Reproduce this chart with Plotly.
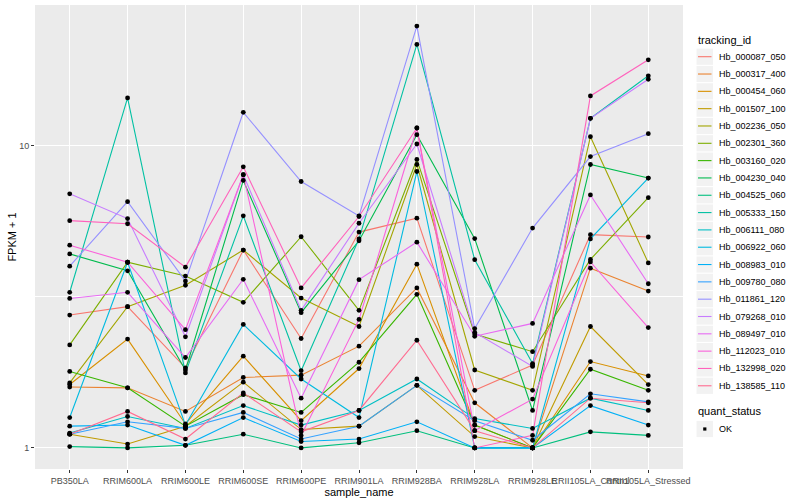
import plotly.graph_objects as go

samples = ["PB350LA", "RRIM600LA", "RRIM600LE", "RRIM600SE", "RRIM600PE", "RRIM901LA",
           "RRIM928BA", "RRIM928LA", "RRIM928LE", "RRII105LA_Control", "RRII105LA_Stressed"]

tracking_ids = ["Hb_000087_050", "Hb_000317_400", "Hb_000454_060", "Hb_001507_100",
                "Hb_002236_050", "Hb_002301_360", "Hb_003160_020", "Hb_004230_040",
                "Hb_004525_060", "Hb_005333_150", "Hb_006111_080", "Hb_006922_060",
                "Hb_008983_010", "Hb_009780_080", "Hb_011861_120", "Hb_079268_010",
                "Hb_089497_010", "Hb_112023_010", "Hb_132998_020", "Hb_138585_110"]

colors = ["#F8766D", "#EA8331", "#D89000", "#C09B00", "#A3A500", "#7CAE00", "#39B600",
          "#00BB4E", "#00BF7D", "#00C1A3", "#00BFC4", "#00BAE0", "#00B0F6", "#35A2FF",
          "#9590FF", "#C77CFF", "#E76BF3", "#FA62DB", "#FF62BC", "#FF6C91"]

# FPKM + 1 per sample (in sample order)
hb_000087_050 = [2.75, 2.93, 1.84, 4.51, 2.30, 5.17, 5.75, 1.55, 1.88, 5.07, 4.98]
hb_000317_400 = [1.59, 1.58, 1.32, 1.71, 1.74, 2.17, 3.38, 1.41, 1.00, 3.93, 3.30]
hb_000454_060 = [1.62, 2.29, 1.20, 2.01, 1.23, 1.83, 4.05, 1.19, 1.00, 1.93, 1.73]
hb_001507_100 = [1.11, 1.03, 1.18, 1.65, 1.15, 1.18, 1.61, 1.09, 1.00, 2.52, 1.62]
hb_002236_050 = [1.64, 2.93, 3.45, 4.51, 3.13, 2.52, 8.65, 1.81, 1.55, 10.69, 4.09]
hb_002301_360 = [2.19, 4.11, 3.70, 3.03, 4.99, 2.85, 8.99, 2.38, 2.08, 4.20, 6.72]
hb_003160_020 = [1.79, 1.58, 1.18, 1.50, 1.31, 1.92, 3.22, 1.19, 1.00, 1.82, 1.55]
hb_004230_040 = [4.38, 3.85, 1.81, 7.66, 2.80, 4.84, 10.85, 4.92, 1.33, 8.65, 7.80]
hb_004525_060 = [1.01, 1.00, 1.02, 1.11, 1.00, 1.04, 1.14, 1.00, 1.00, 1.13, 1.10]
hb_005333_150 = [3.27, 14.36, 1.77, 5.85, 1.80, 4.91, 21.57, 4.19, 1.90, 12.29, 16.99]
hb_006111_080 = [1.12, 1.27, 1.16, 1.38, 1.19, 1.33, 1.69, 1.25, 1.16, 1.46, 1.33]
hb_006922_060 = [1.26, 4.11, 1.19, 2.56, 1.69, 1.26, 8.20, 1.00, 1.00, 4.91, 7.80]
hb_008983_010 = [1.18, 1.19, 1.02, 1.26, 1.05, 1.07, 1.22, 1.00, 1.00, 1.38, 1.19]
hb_009780_080 = [1.11, 1.22, 1.16, 1.31, 1.07, 1.18, 1.61, 1.23, 1.06, 1.51, 1.42]
hb_011861_120 = [3.99, 6.52, 3.56, 12.87, 7.60, 5.85, 24.81, 2.48, 5.33, 9.19, 10.94]
hb_079268_010 = [6.92, 5.73, 2.33, 8.00, 2.85, 5.53, 10.11, 2.41, 1.86, 12.29, 16.55]
hb_089497_010 = [3.12, 3.27, 1.99, 3.61, 1.46, 3.60, 4.79, 2.34, 2.58, 6.86, 3.49]
hb_112023_010 = [4.68, 4.11, 2.46, 8.00, 1.10, 2.66, 11.42, 1.14, 1.45, 4.12, 2.50]
hb_132998_020 = [5.64, 5.51, 3.96, 8.50, 3.38, 5.82, 11.42, 1.00, 1.10, 14.58, 19.19]
hb_138585_110 = [1.11, 1.32, 1.07, 1.52, 1.13, 1.33, 2.27, 1.14, 1.00, 1.46, 1.41]

series = [hb_000087_050, hb_000317_400, hb_000454_060, hb_001507_100, hb_002236_050,
          hb_002301_360, hb_003160_020, hb_004230_040, hb_004525_060, hb_005333_150,
          hb_006111_080, hb_006922_060, hb_008983_010, hb_009780_080, hb_011861_120,
          hb_079268_010, hb_089497_010, hb_112023_010, hb_132998_020, hb_138585_110]

quant_status = "OK"

W, H = 800, 500
ML, MR, MT, MB = 35, 117, 5, 31
PW, PH = W - ML - MR, H - MT - MB


def px(xp):  # pixel -> paper x (legend layout only)
    return (xp - ML) / PW


def py(yp):  # pixel -> paper y (legend layout only)
    return (H - MB - yp) / PH


fig = go.Figure()
for name, col, vals in zip(tracking_ids, colors, series):
    fig.add_trace(go.Scatter(x=samples, y=vals, mode="lines", name=name,
                             line=dict(color=col, width=1.1), showlegend=False))

all_x = [s for vals in series for s in samples]
all_y = [v for vals in series for v in vals]
fig.add_trace(go.Scatter(x=all_x, y=all_y, mode="markers", name=quant_status,
                         marker=dict(color="black", size=4.8, symbol="circle"),
                         showlegend=False))

font = "Liberation Sans, Arial, sans-serif"
shapes = []
annotations = []

# legend: tracking_id
annotations.append(dict(text="tracking_id", x=px(696), y=py(40.5), xref="paper", yref="paper",
                        xanchor="left", yanchor="middle", showarrow=False,
                        font=dict(size=11, color="black")))
for i, (name, col) in enumerate(zip(tracking_ids, colors)):
    yc = 56.7 + 17.32 * i
    shapes.append(dict(type="rect", xref="paper", yref="paper",
                       x0=px(696.5), x1=px(713), y0=py(yc - 8.1), y1=py(yc + 8.1),
                       fillcolor="#F2F2F2", line=dict(width=0), layer="above"))
    shapes.append(dict(type="line", xref="paper", yref="paper",
                       x0=px(698), x1=px(711.5), y0=py(yc), y1=py(yc),
                       line=dict(color=col, width=1.1), layer="above"))
    annotations.append(dict(text=name, x=px(716.5), y=py(yc), xref="paper", yref="paper",
                            xanchor="left", yanchor="middle", showarrow=False,
                            font=dict(size=9, color="black")))

# legend: quant_status
annotations.append(dict(text="quant_status", x=px(696), y=py(410.5), xref="paper", yref="paper",
                        xanchor="left", yanchor="middle", showarrow=False,
                        font=dict(size=11, color="black")))
yc = 429
shapes.append(dict(type="rect", xref="paper", yref="paper",
                   x0=px(696.5), x1=px(713), y0=py(yc - 8.1), y1=py(yc + 8.1),
                   fillcolor="#F2F2F2", line=dict(width=0), layer="above"))
shapes.append(dict(type="rect", xref="paper", yref="paper",
                   x0=px(703.2), x1=px(706.4), y0=py(yc - 1.6), y1=py(yc + 1.6),
                   fillcolor="black", line=dict(width=0), layer="above"))
annotations.append(dict(text=quant_status, x=px(716.5), y=py(yc), xref="paper", yref="paper",
                        xanchor="left", yanchor="middle", showarrow=False,
                        font=dict(size=9, color="black")))

fig.update_layout(
    width=W, height=H,
    margin=dict(l=ML, r=MR, t=MT, b=MB),
    paper_bgcolor="white", plot_bgcolor="#EBEBEB",
    font=dict(family=font, size=9, color="#4D4D4D"),
    showlegend=False,
    shapes=shapes, annotations=annotations,
    xaxis=dict(type="category", categoryorder="array", categoryarray=samples,
               range=[-0.6, 10.6], showgrid=True, gridcolor="white", gridwidth=1.1,
               ticks="outside", ticklen=3, tickcolor="#333333", tickangle=0,
               tickfont=dict(size=9, color="#4D4D4D"), zeroline=False, automargin=False,
               title=dict(text="sample_name", font=dict(size=11, color="black"), standoff=0)),
    yaxis=dict(type="log", range=[-0.0697, 1.4643], tickvals=[1, 10], ticktext=["1", "10"],
               showgrid=True, gridcolor="white", gridwidth=1.1,
               minor=dict(tickvals=[10 ** 0.5], showgrid=True, gridcolor="white",
                          gridwidth=0.5, ticklen=0),
               ticks="outside", ticklen=3, tickcolor="#333333",
               tickfont=dict(size=9, color="#4D4D4D"), zeroline=False, automargin=False,
               title=dict(text="FPKM + 1", font=dict(size=11, color="black"), standoff=0)),
)

fig.write_html("out.html", config={"displayModeBar": False},
               post_script="document.body.style.margin='0px';")
